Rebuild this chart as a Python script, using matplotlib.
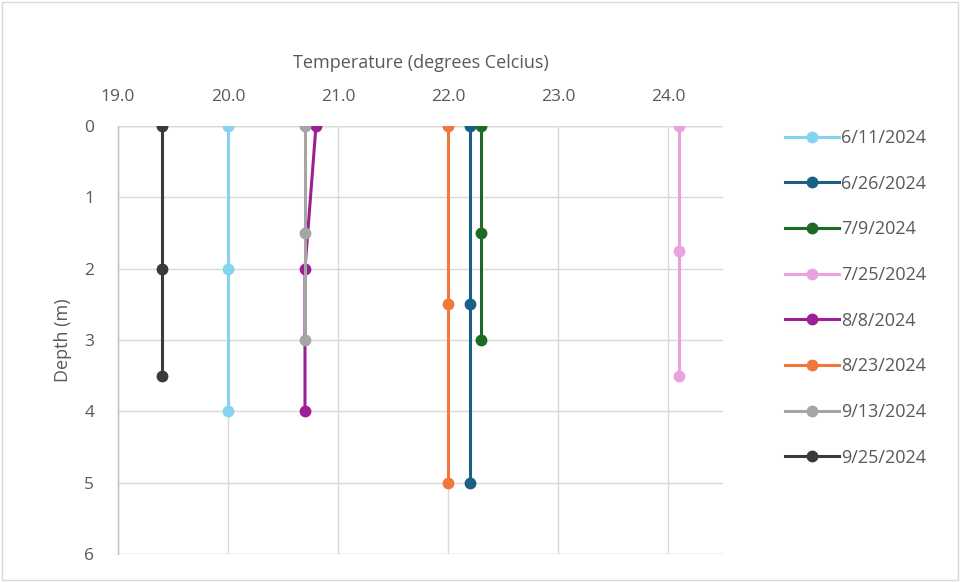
import matplotlib
matplotlib.use("Agg")
import matplotlib.pyplot as plt
from matplotlib.patches import Rectangle

plt.rcParams['font.family'] = ['Open Sans', 'DejaVu Sans']

dates = ["6/11/2024", "6/26/2024", "7/9/2024", "7/25/2024",
         "8/8/2024", "8/23/2024", "9/13/2024", "9/25/2024"]
temps = [
    [20.0, 20.0, 20.0],
    [22.2, 22.2, 22.2],
    [22.3, 22.3, 22.3],
    [24.1, 24.1, 24.1],
    [20.8, 20.7, 20.7],
    [22.0, 22.0, 22.0],
    [20.7, 20.7, 20.7],
    [19.4, 19.4, 19.4],
]
depths = [
    [0, 2, 4],
    [0, 2.5, 5],
    [0, 1.5, 3],
    [0, 1.75, 3.5],
    [0, 2, 4],
    [0, 2.5, 5],
    [0, 1.5, 3],
    [0, 2, 3.5],
]
colors = ["#86d3f0", "#1b5e86", "#1d6b25", "#e9a2dc",
          "#9c2095", "#f0783a", "#a5a5a5", "#3a3a3a"]
x_ticks = [19.0, 20.0, 21.0, 22.0, 23.0, 24.0]
y_ticks = [0, 1, 2, 3, 4, 5, 6]

fig = plt.figure(figsize=(9.6, 5.82), dpi=100)
ax = fig.add_axes([0.1229, 0.0481, 0.6302, 0.7354])

for d, t, z, c in zip(dates, temps, depths, colors):
    ax.plot(t, z, color=c, lw=2.2, marker='o', ms=7.5, label=d, zorder=3)

ax.set_xlim(19.0, 24.5)
ax.set_ylim(6, 0)
ax.set_xticks(x_ticks)
ax.set_xticklabels([f"{v:.1f}" for v in x_ticks])
ax.set_yticks(y_ticks)
ax.xaxis.tick_top()
ax.xaxis.set_label_position('top')
ax.tick_params(axis='both', length=0, labelsize=12.5, colors='#595959')
ax.tick_params(axis='x', pad=15)
ax.tick_params(axis='y', pad=17)
ax.set_xlabel("Temperature (degrees Celcius)", fontsize=13, color='#595959', labelpad=15)
ax.set_ylabel("Depth (m)", fontsize=13, color='#595959', labelpad=9)
ax.grid(True, color='#d9d9d9', lw=1.0, zorder=0)
for s in ['top', 'right', 'bottom']:
    ax.spines[s].set_visible(False)
ax.spines['left'].set_color('#bfbfbf')
ax.spines['left'].set_linewidth(1.0)
ax.axhline(0, color='#bfbfbf', lw=1.0, zorder=1)
ax.axhline(6, color='#d9d9d9', lw=1.0, zorder=1)

leg = fig.legend(loc='upper left', bbox_to_anchor=(0.801, 0.806), frameon=False,
                 fontsize=13, labelcolor='#595959', handlelength=3.0,
                 handletextpad=0.1, labelspacing=1.53)

fig.patches.append(Rectangle((0.002, 0.003), 0.996, 0.994, transform=fig.transFigure,
                             fill=False, edgecolor='#d9d9d9', lw=1.0))

fig.savefig("out.png", dpi=100)
